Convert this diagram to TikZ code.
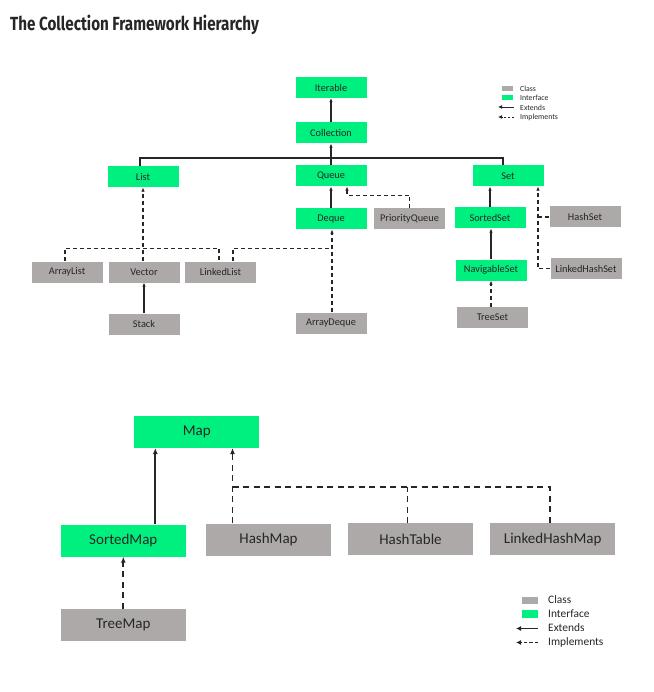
\documentclass[tikz,border=0pt]{standalone}
\usepackage{fontspec}
\setmainfont{Carlito}
\newfontfamily\titlefont[FakeStretch=0.8]{Fira Sans Bold}
\usepackage{xcolor}
\usetikzlibrary{arrows.meta,positioning}
\definecolor{ifgreen}{HTML}{00F07F}
\definecolor{clsgray}{HTML}{ADA9A9}
\definecolor{inkdark}{HTML}{262626}

\begin{document}
\begin{tikzpicture}[
    x=1pt,y=-1pt,
    >={Latex[length=4pt,width=3.6pt]},
    box/.style={inner sep=0pt,text=inkdark,font=\fontsize{10.3}{12}\selectfont,
      minimum width=71pt,minimum height=21pt},
    bigbox/.style={inner sep=0pt,text=inkdark,font=\fontsize{15}{18}\selectfont,
      minimum width=125pt,minimum height=32pt},
    iface/.style={fill=ifgreen},
    cls/.style={fill=clsgray},
    ext/.style={->,draw=inkdark,line width=1.1pt},
    impl/.style={->,draw=inkdark,line width=1.1pt,dash pattern=on 4pt off 3pt},
    bigext/.style={ext,line width=1.8pt,>={Latex[length=6pt,width=5pt]}},
    bigimpl/.style={impl,line width=1.8pt,dash pattern=on 6pt off 4.5pt,
      >={Latex[length=6pt,width=5pt]}},
    legtext/.style={anchor=west,inner sep=0pt,text=inkdark}
  ]
    \useasboundingbox[fill=white] (0,0) rectangle (653,692);
    \node[anchor=base west,inner sep=0pt,text=inkdark,
      font=\titlefont\fontsize{19}{22}\selectfont] (title) at (10,30.7)
      {The Collection Framework Hierarchy};

    % collection side
    \node[box,iface] (iterable) at (331,87.5) {Iterable};
    \node[box,iface] (collection) at (331,133) {Collection};
    \node[box,iface] (list) at (143,177) {List};
    \node[box,iface] (queue) at (331,176) {Queue};
    \node[box,iface] (set) at (508,176) {Set};
    \node[box,iface] (deque) at (331,219) {Deque};
    \node[box,cls] (prioq) at (409.5,219) {PriorityQueue};
    \node[box,iface] (sortedset) at (490,218) {SortedSet};
    \node[box,cls] (hashset) at (585,217) {HashSet};
    \node[box,iface] (navset) at (491,270) {NavigableSet};
    \node[box,cls] (lhashset) at (586,268.5) {LinkedHashSet};
    \node[box,cls] (treeset) at (492.5,317.5) {TreeSet};
    \node[box,cls] (arraylist) at (67,272) {ArrayList};
    \node[box,cls] (vector) at (144,272) {Vector};
    \node[box,cls] (linkedlist) at (220.5,272) {LinkedList};
    \node[box,cls] (stack) at (144,324) {Stack};
    \node[box,cls] (arraydeque) at (331,323) {ArrayDeque};

    \coordinate (cbar) at (331,158);
    \coordinate (lbar) at (0,248.3);

    \draw[ext] (collection) -- (iterable);
    \draw[ext] (queue) -- (collection);
    \draw[draw=inkdark,line width=1.1pt] ([xshift=-3]list.north) |- (cbar)
      -| ([xshift=-5]set.north);
    \draw[ext] (deque) -- (queue);
    \draw[impl] (prioq.north) -- ++(0,-13) -| ([xshift=16]queue.south);
    \draw[ext] (sortedset) -- (sortedset |- set.south);
    \draw[ext] (navset) -- (navset |- sortedset.south);
    \draw[impl] (treeset.north -| navset) -- (navset);
    \draw[impl] (lhashset.west) -| ([xshift=30]set.south);
    \draw[impl,-] (hashset.west) -- ++(-10.5,0);
    \draw[ext] (stack) -- (vector);
    \draw[impl] ([xshift=-1]vector.north) -- ([xshift=-1]vector.north |- list.south);
    \draw[impl,-] (arraylist.north -| 65,0) |- (lbar -| 219,0)
      -- (linkedlist.north -| 219,0);
    \draw[impl] (arraydeque.north -| 332,0) -- (deque.south -| 332,0);
    \draw[impl,-] (linkedlist.north -| 233,0) |- (lbar -| 332,0);

    % legend (collection)
    \fill[clsgray] (502,86) rectangle (513,91.5);
    \fill[ifgreen] (502,95) rectangle (513,100.5);
    \draw[ext,line width=0.8pt,>={Latex[length=4pt,width=4pt]}] (514,107) -- (498,107);
    \draw[impl,line width=0.8pt,dash pattern=on 2.5pt off 1.5pt,
      >={Latex[length=4pt,width=4pt]}] (514,117) -- (498,117);
    \node[legtext,font=\fontsize{7.8}{9}\selectfont] (lclass) at (520,88.5) {Class};
    \node[legtext,font=\fontsize{7.8}{9}\selectfont] (liface) at (520,98) {Interface};
    \node[legtext,font=\fontsize{7.8}{9}\selectfont] (lext) at (520,107.5) {Extends};
    \node[legtext,font=\fontsize{7.8}{9}\selectfont] (limpl) at (520,117.5) {Implements};

    % map side
    \node[bigbox,iface] (map) at (196.7,431.8) {Map};
    \node[bigbox,iface] (sortedmap) at (123.3,540.5) {SortedMap};
    \node[bigbox,cls] (hashmap) at (268.5,539.5) {HashMap};
    \node[bigbox,cls] (hashtable) at (410.5,539.3) {HashTable};
    \node[bigbox,cls] (lhashmap) at (552.7,539.3) {LinkedHashMap};
    \node[bigbox,cls] (treemap) at (123.3,625) {TreeMap};

    \coordinate (mbar) at (232.7,487.3);

    \draw[bigext] ([xshift=32]sortedmap.north) -- ([xshift=32]sortedmap.north |- map.south);
    \draw[bigimpl] (treemap) -- (sortedmap);
    \draw[bigimpl] ([xshift=-36]hashmap.north) -- ([xshift=-36]hashmap.north |- map.south);
    \draw[bigimpl,-] (mbar) -| ([xshift=-3]lhashmap.north);
    \draw[bigimpl,-] ([xshift=-3]hashtable.north) -- ([xshift=-3]hashtable.north |- mbar);

    % legend (map)
    \fill[clsgray] (521.7,596.7) rectangle (537.7,604);
    \fill[ifgreen] (521.7,610.3) rectangle (537.7,618.3);
    \draw[ext,line width=1.2pt,>={Latex[length=5pt,width=5pt]}] (538,628.5) -- (516,628.5);
    \draw[impl,line width=1.2pt,dash pattern=on 3.5pt off 2pt,
      >={Latex[length=5pt,width=5pt]}] (538,642.5) -- (516,642.5);
    \node[legtext,font=\fontsize{11.4}{13}\selectfont] (mclass) at (548,600) {Class};
    \node[legtext,font=\fontsize{11.4}{13}\selectfont] (miface) at (548,614) {Interface};
    \node[legtext,font=\fontsize{11.4}{13}\selectfont] (mext) at (548,628) {Extends};
    \node[legtext,font=\fontsize{11.4}{13}\selectfont] (mimpl) at (548,642) {Implements};
  \end{tikzpicture}
\end{document}
